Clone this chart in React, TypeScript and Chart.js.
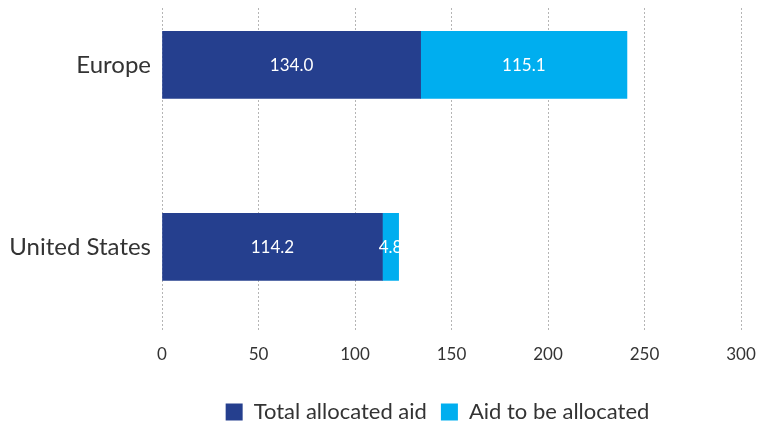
import React, { useEffect, useRef } from 'react';
import { Chart, registerables } from 'chart.js';

Chart.register(...registerables);

// Categories (positions 0 and 1 on the index axis)
const categories = ['Europe', 'United States'];
const categoryIndex = [0, 1];

// Bar lengths as drawn in the picture (billions)
const allocatedValues = [134.0, 114.2];
const toBeAllocatedValues = [106.9, 8.4];

// Value labels printed on the bars
const allocatedLabels = ['134.0', '114.2'];
const toBeAllocatedLabels = ['115.1', '4.8'];

// Series names
const seriesNames = ['Total allocated aid', 'Aid to be allocated'];

// X axis ticks
const xMin = 0;
const xMax = 300;
const xStep = 50;

const FONT = 'Lato';
const TEXT = '#333333';
const DARK = '#253f8e';
const LIGHT = '#00aeef';

const barLabelPlugin = {
  id: 'barLabels',
  afterDatasetsDraw(chart: any) {
    const ctx = chart.ctx;
    ctx.save();
    ctx.fillStyle = '#ffffff';
    ctx.font = `17px ${FONT}`;
    ctx.textAlign = 'center';
    ctx.textBaseline = 'middle';
    chart.data.datasets.forEach((_ds: any, i: number) => {
      const meta = chart.getDatasetMeta(i);
      const texts = i === 0 ? allocatedLabels : toBeAllocatedLabels;
      meta.data.forEach((el: any, j: number) => {
        const p = el.getProps(['x', 'y', 'base'], true);
        ctx.fillText(texts[j], (p.x + p.base) / 2, p.y + 1);
      });
    });
    ctx.restore();
  },
};

// Place the legend where the reference has it (centred a little right, lower)
const legendShiftPlugin = {
  id: 'legendShift',
  afterLayout(chart: any) {
    const l = chart.legend;
    if (!l) return;
    const dx = 67;
    const dy = 8;
    l.left += dx;
    l.right += dx;
    l.top += dy;
    l.bottom += dy;
  },
};

export default function App() {
  const ref = useRef<HTMLCanvasElement | null>(null);

  useEffect(() => {
    if (!ref.current) return;
    const chart = new Chart(ref.current, {
      type: 'bar',
      data: {
        datasets: [
          {
            label: seriesNames[0],
            data: categoryIndex.map((c, i) => ({ x: allocatedValues[i], y: c })),
            backgroundColor: DARK,
            borderWidth: 0,
            barThickness: 67,
            grouped: false,
          },
          {
            label: seriesNames[1],
            data: categoryIndex.map((c, i) => ({ x: toBeAllocatedValues[i], y: c })),
            backgroundColor: LIGHT,
            borderWidth: 0,
            barThickness: 67,
            grouped: false,
          },
        ],
      },
      options: {
        indexAxis: 'y',
        responsive: true,
        maintainAspectRatio: false,
        animation: false,
        layout: { padding: { top: 8, right: 30, bottom: 0, left: 0 } },
        plugins: {
          legend: {
            position: 'bottom',
            labels: {
              boxWidth: 17,
              boxHeight: 17,
              padding: 14,
              color: TEXT,
              font: { family: FONT, size: 22 },
            },
          },
          tooltip: { enabled: false },
        },
        scales: {
          x: {
            type: 'linear',
            stacked: true,
            min: xMin,
            max: xMax,
            ticks: {
              stepSize: xStep,
              color: TEXT,
              padding: 12,
              font: { family: FONT, size: 17 },
            },
            grid: { color: '#b5b5b5', drawTicks: false, lineWidth: 1 },
            border: { display: false, dash: [2, 2] },
            afterFit: (s: any) => {
              s.height = 47;
            },
          },
          y: {
            type: 'linear',
            stacked: false,
            offset: false,
            bounds: 'data',
            reverse: true,
            min: -0.312,
            max: 1.467,
            afterBuildTicks: (s: any) => {
              s.ticks = categoryIndex.map((v) => ({ value: v }));
            },
            ticks: {
              color: TEXT,
              padding: 11,
              font: { family: FONT, size: 24 },
              callback: (v: any) => categories[v] ?? '',
            },
            grid: { display: false, drawTicks: false },
            border: { display: false },
            afterFit: (s: any) => {
              s.width = 162;
              s.paddingTop = 0;
              s.paddingBottom = 0;
            },
          },
        },
      },
      plugins: [barLabelPlugin, legendShiftPlugin],
    });
    return () => chart.destroy();
  }, []);

  return (
    <div style={{ position: 'fixed', left: 0, top: 0, width: 771, height: 425, background: '#fff' }}>
      <canvas ref={ref} />
    </div>
  );
}
